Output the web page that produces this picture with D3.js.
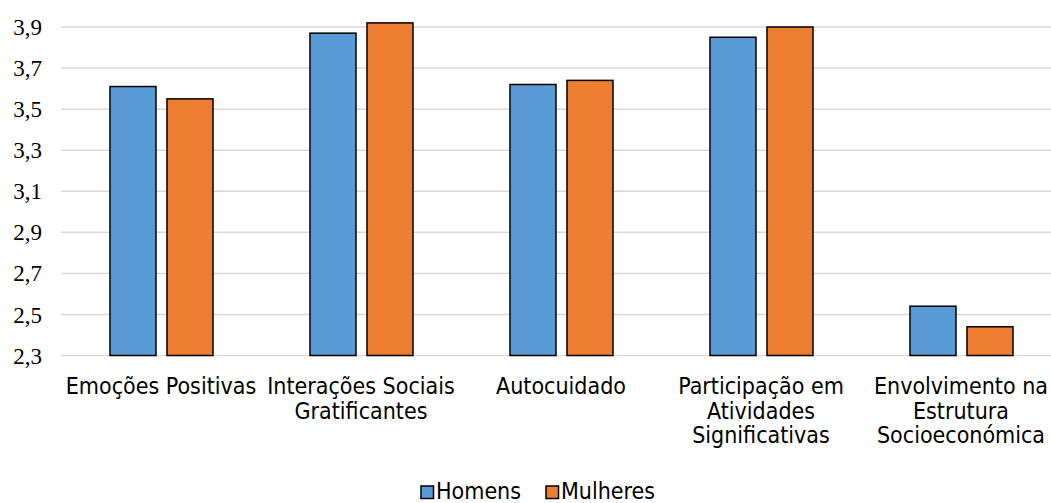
<!DOCTYPE html>
<html><head><meta charset="utf-8">
<script src="https://d3js.org/d3.v7.min.js"></script>
<style>body{margin:0;background:#fff}svg{display:block}</style>
</head><body>
<svg id="chart" width="1051" height="503"></svg>
<script>
const categories = [
  ["Emoções Positivas"],
  ["Interações Sociais", "Gratificantes"],
  ["Autocuidado"],
  ["Participação em", "Atividades", "Significativas"],
  ["Envolvimento na", "Estrutura", "Socioeconómica"]
];
const series = ["Homens", "Mulheres"];
const homens = [3.61, 3.87, 3.62, 3.85, 2.54];
const mulheres = [3.55, 3.92, 3.64, 3.90, 2.44];
const tickValues = [2.3, 2.5, 2.7, 2.9, 3.1, 3.3, 3.5, 3.7, 3.9];
const colors = ["#5B9BD5", "#ED7D31"];

const svg = d3.select("#chart");
const catKeys = categories.map(c => c.join(" "));
const values = [homens, mulheres];

const x = d3.scaleBand().domain(catKeys).range([61, 1061]).padding(0);
const x1 = d3.scaleBand().domain(series).range([49, 152]).paddingInner(0.193);
const y = d3.scaleLinear().domain([2.3, 3.9]).range([355.5, 27]);

// gridlines
svg.append("g").selectAll("line").data(tickValues).join("line")
  .attr("x1", 61).attr("x2", 1051)
  .attr("y1", d => y(d)).attr("y2", d => y(d))
  .attr("stroke", "#D9D9D9").attr("stroke-width", 1.5);

// y axis labels
const yAxis = d3.axisLeft(y).tickValues(tickValues).tickSize(0).tickPadding(0)
  .tickFormat(d => d3.format(".1f")(d).replace(".", ","));
const yg = svg.append("g").attr("transform", "translate(42,0)").call(yAxis);
yg.select(".domain").remove();
yg.selectAll("text").attr("font-family", "'Liberation Serif', 'Times New Roman', serif")
  .attr("font-size", 23).attr("fill", "#000").attr("dy", "0.33em");

// bars
const groups = svg.append("g").selectAll("g").data(catKeys).join("g")
  .attr("transform", d => `translate(${x(d)},0)`);
groups.selectAll("rect").data((d, i) => series.map((s, j) => ({s, v: values[j][i], j})))
  .join("rect")
  .attr("x", d => x1(d.s)).attr("width", x1.bandwidth())
  .attr("y", d => y(d.v)).attr("height", d => y(2.3) - y(d.v))
  .attr("fill", d => colors[d.j]).attr("stroke", "#000").attr("stroke-width", 1.5);

// category labels
const labFont = "'DejaVu Sans Condensed', 'DejaVu Sans', Verdana, sans-serif";
// calibrate font size to the reference label width
const probe = svg.append("text").attr("font-family", labFont).attr("font-size", 20).text("Emoções Positivas");
const w = probe.node().getComputedTextLength();
probe.remove();
const fs = Math.min(23, 20 * 192 / w);

const labels = svg.append("g").selectAll("text").data(categories).join("text")
  .attr("font-family", labFont).attr("font-size", fs).attr("fill", "#000")
  .attr("text-anchor", "middle")
  .attr("transform", (d, i) => `translate(${x(catKeys[i]) + x.bandwidth() / 2},394)`);
labels.selectAll("tspan").data(d => d).join("tspan")
  .attr("x", 0).attr("y", (d, i) => i * 24.7).text(d => d);

// legend
const legend = svg.append("g");
const legX = [421, 546];
series.forEach((s, i) => {
  legend.append("rect").attr("x", legX[i]).attr("y", 486).attr("width", 12.5).attr("height", 12.5)
    .attr("fill", colors[i]).attr("stroke", "#000").attr("stroke-width", 1.5);
  legend.append("text").attr("x", legX[i] + 15).attr("y", 498.5)
    .attr("font-family", labFont).attr("font-size", fs).attr("fill", "#000").text(s);
});
</script>
</body></html>
